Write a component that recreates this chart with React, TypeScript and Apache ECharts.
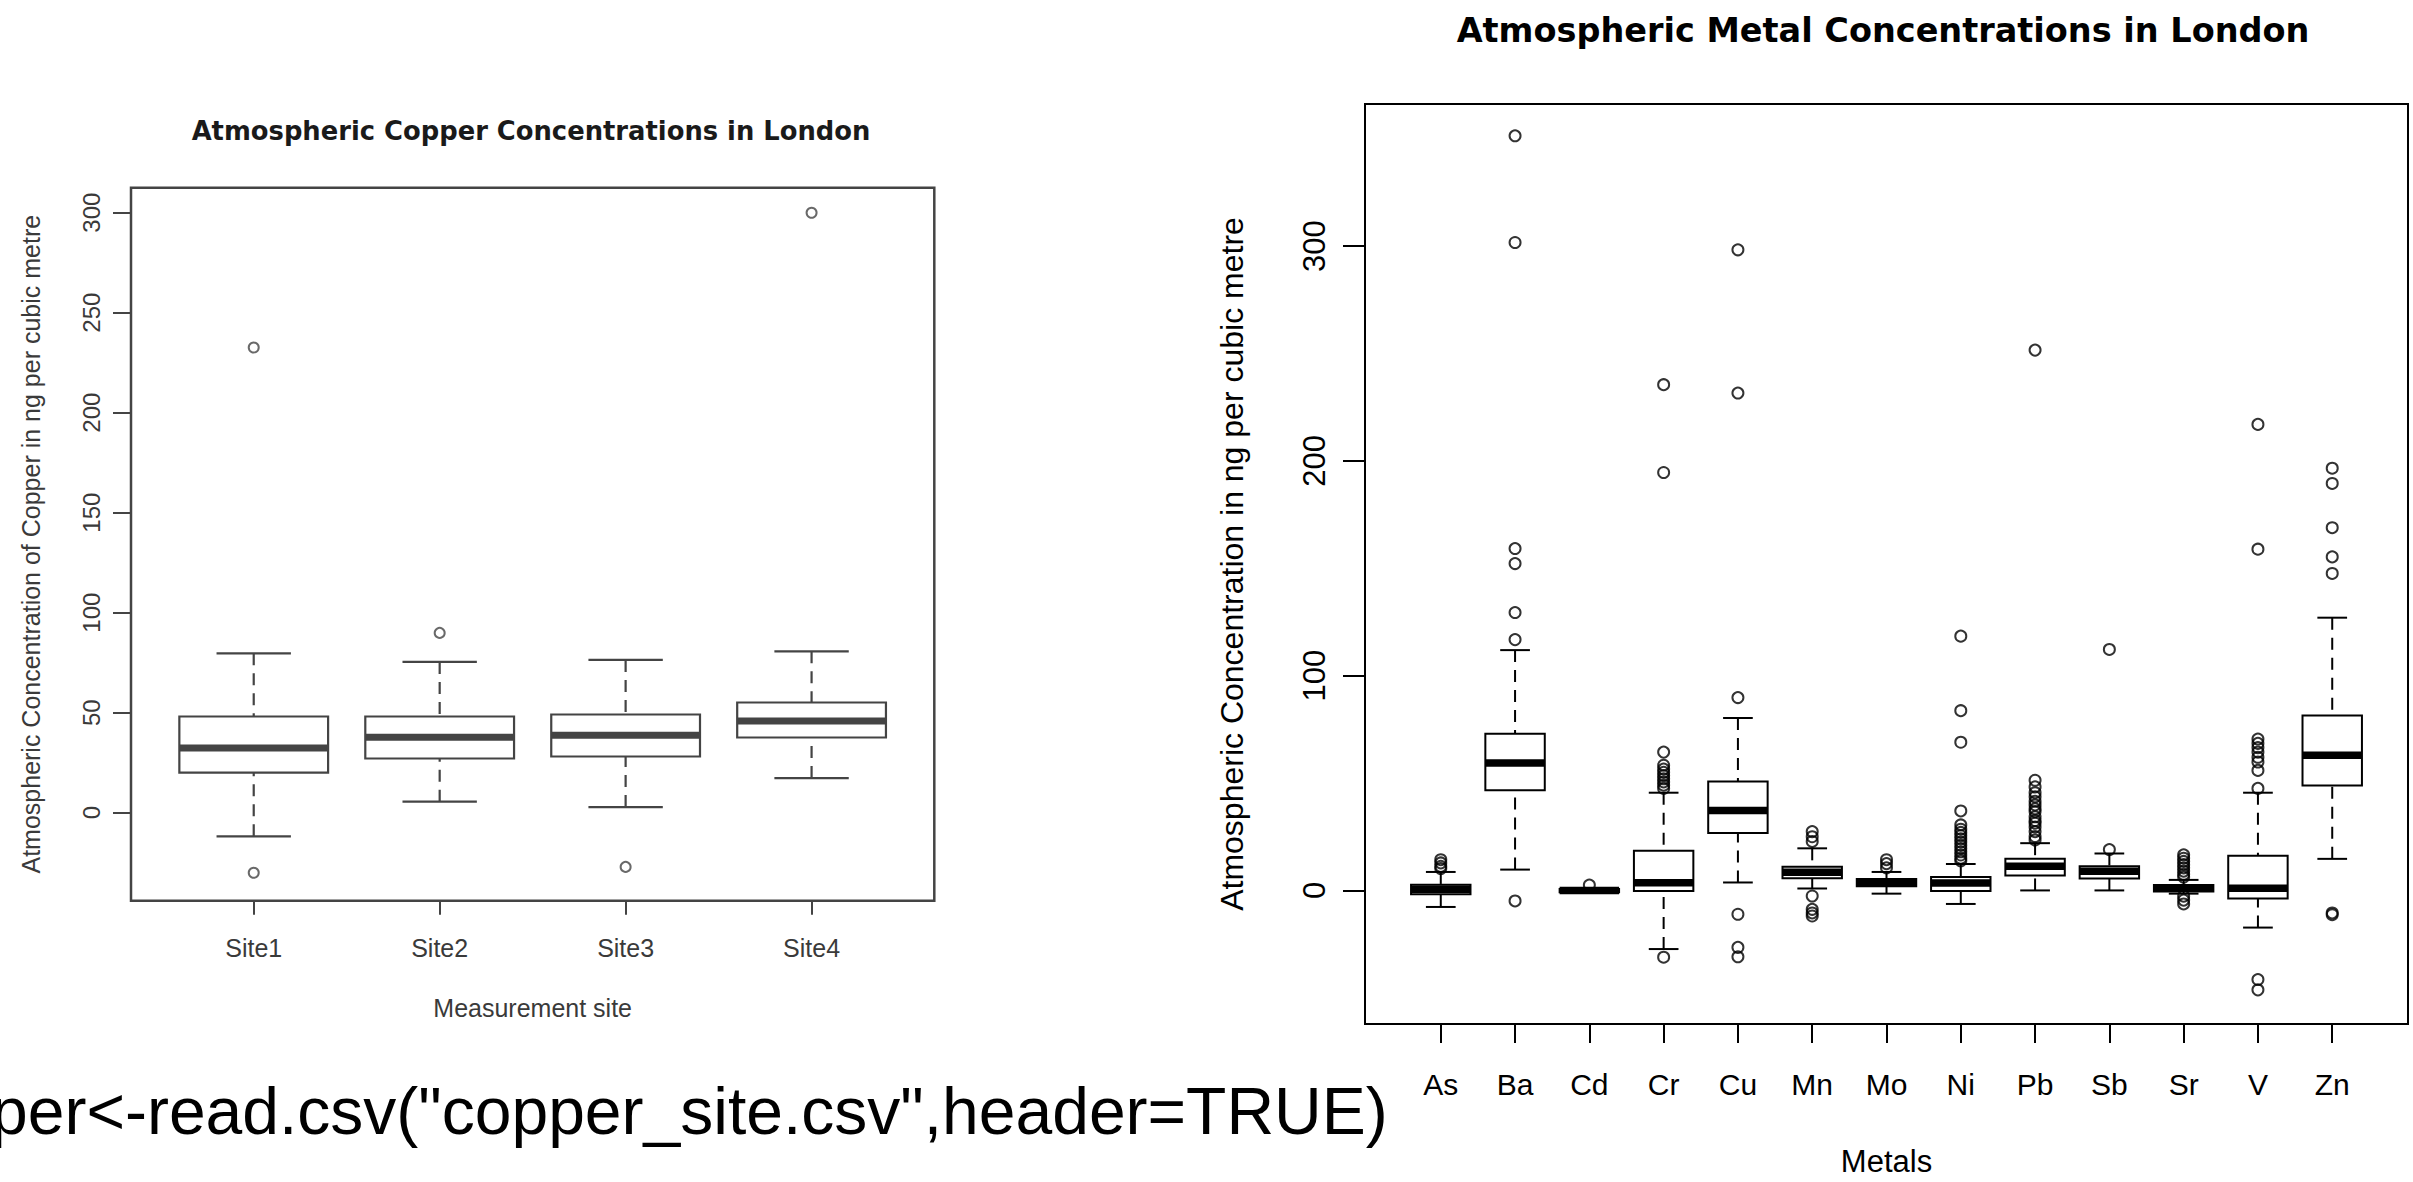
import React, { useEffect, useRef } from "react";
import * as echarts from "echarts";

// ---------- Left chart: copper by site ----------
const sites = ["Site1", "Site2", "Site3", "Site4"];
const copperLow = [-11.8, 5.5, 2.8, 17.3];
const copperQ1 = [20.0, 27.1, 28.1, 37.6];
const copperMedian = [32.4, 37.7, 38.7, 45.9];
const copperQ3 = [48.1, 48.1, 49.1, 55.1];
const copperHigh = [79.7, 75.4, 76.4, 80.7];
const copperOutliers = [[232.6, -30.0], [89.9], [-27.1], [300.0]];
const copperTicks = [0, 50, 100, 150, 200, 250, 300];

// ---------- Right chart: metals ----------
const metals = ["As", "Ba", "Cd", "Cr", "Cu", "Mn", "Mo", "Ni", "Pb", "Sb", "Sr", "V", "Zn"];
const metalLow = [-7.7, 9.7, -0.9, -27.3, 3.7, 0.9, -1.5, -6.3, 0.0, 0.0, -1.5, -17.3, 14.7];
const metalQ1 = [-1.8, 46.7, -0.8, -0.3, 26.7, 5.7, 2.0, -0.3, 7.0, 5.5, -0.5, -3.8, 48.9];
const metalMedian = [0.5, 59.3, 0.0, 3.6, 37.2, 8.5, 3.5, 3.5, 11.2, 8.9, 1.0, 1.0, 62.9];
const metalQ3 = [2.6, 72.9, 0.7, 18.5, 50.7, 11.0, 5.3, 6.2, 14.8, 11.3, 2.5, 16.2, 81.4];
const metalHigh = [8.6, 111.9, 0.9, 45.5, 80.3, 19.6, 8.6, 12.3, 22.0, 17.2, 4.9, 45.5, 127.0];
const metalOutliers = [
  [14.3, 12.8, 11.2, 10.2],
  [351.4, 301.7, 159.2, 152.2, 129.4, 116.8, -4.9],
  [2.5],
  [235.5, 194.6, 64.4, 58.3, 56.5, 55.0, 53.5, 52.0, 50.5, 49.0, 47.5, -31.1],
  [298.3, 231.6, 89.8, -11.1, -26.5, -30.9],
  [27.4, 25.0, 22.8, -2.6, -8.8, -10.5, -11.9],
  [14.3, 12.5, 10.5],
  [118.4, 83.7, 69.0, 37.0, 30.5, 28.5, 27.0, 25.5, 24.0, 22.5, 21.0, 19.5, 18.0, 16.5, 15.0, 13.8],
  [251.6, 51.3, 48.2, 45.5, 43.6, 41.5, 39.8, 38.0, 36.7, 34.3, 32.5, 31.3, 29.5, 27.4, 25.1, 23.5],
  [112.2, 19.0],
  [16.6, 15.0, 13.5, 12.0, 10.5, 9.0, 7.5, 6.2, -2.7, -4.5, -6.3],
  [217.0, 158.9, 70.5, 68.5, 66.5, 64.4, 62.0, 59.8, 55.9, 47.5, -41.5, -46.3],
  [196.6, 189.5, 168.9, 155.3, 147.6, -10.5, -11.3],
];
const metalTicks = [0, 100, 200, 300];

const codeLine = 'per<-read.csv("copper_site.csv",header=TRUE)';

const FONT = "Liberation Sans";
const LEFT_INK = "#444";
const LEFT_TEXT = "#3a3a3a";

function boxRows(low: number[], q1: number[], med: number[], q3: number[], high: number[]) {
  return low.map((_, i) => [i + 1, low[i], q1[i], med[i], q3[i], high[i]]);
}

function outlierPoints(outs: number[][]) {
  const pts: number[][] = [];
  outs.forEach((arr, i) => arr.forEach((v) => pts.push([i + 1, v])));
  return pts;
}

function makeBoxRenderer(color: string, lw: number, medW: number, dash: number[]) {
  return (_params: any, api: any) => {
    const x = api.value(0);
    const pLow = api.coord([x, api.value(1)]);
    const cx = pLow[0];
    const yLow = pLow[1];
    const yQ1 = api.coord([x, api.value(2)])[1];
    const yMed = api.coord([x, api.value(3)])[1];
    const yQ3 = api.coord([x, api.value(4)])[1];
    const yHigh = api.coord([x, api.value(5)])[1];
    const unit = api.size([1, 0])[0];
    const bw = unit * 0.8;
    const cw = unit * 0.4;
    const line = (x1: number, y1: number, x2: number, y2: number, extra: any = {}) => ({
      type: "line",
      shape: { x1, y1, x2, y2 },
      style: { stroke: color, lineWidth: lw, ...extra },
    });
    return {
      type: "group",
      children: [
        line(cx, yLow, cx, yQ1, { lineDash: dash }),
        line(cx, yHigh, cx, yQ3, { lineDash: dash }),
        line(cx - cw / 2, yLow, cx + cw / 2, yLow),
        line(cx - cw / 2, yHigh, cx + cw / 2, yHigh),
        {
          type: "rect",
          shape: { x: cx - bw / 2, y: yQ3, width: bw, height: yQ1 - yQ3 },
          style: { fill: "#fff", stroke: color, lineWidth: lw },
        },
        line(cx - bw / 2, yMed, cx + bw / 2, yMed, { lineWidth: medW }),
      ],
    };
  };
}

export default function App() {
  const ref = useRef<HTMLDivElement>(null);

  useEffect(() => {
    if (!ref.current) return;
    const chart = echarts.init(ref.current, null, { renderer: "svg" });

    const option: any = {
      animation: false,
      backgroundColor: "#fff",
      textStyle: { fontFamily: FONT },
      title: [
        {
          text: "Atmospheric Copper Concentrations in London",
          left: 531,
          top: 118,
          textAlign: "center",
          padding: 0,
          textStyle: { fontFamily: "DejaVu Sans", fontWeight: "bold", fontSize: 25.8, color: "#1a1a1a" },
        },
        {
          text: "Atmospheric Metal Concentrations in London",
          left: 1883,
          top: 13,
          textAlign: "center",
          padding: 0,
          textStyle: { fontFamily: "DejaVu Sans", fontWeight: "bold", fontSize: 33.5, color: "#000" },
        },
      ],
      grid: [
        { left: 131, top: 187.7, width: 803.3, height: 713, show: true, borderColor: LEFT_INK, borderWidth: 2.5, containLabel: false },
        { left: 1365, top: 104, width: 1043, height: 926.5, show: true, borderColor: "#000", borderWidth: 2, containLabel: false },
      ],
      xAxis: [
        {
          gridIndex: 0,
          type: "value",
          position: "bottom",
          min: 0.34,
          max: 4.66,
          axisLine: { show: false, onZero: false },
          splitLine: { show: false },
          axisTick: { show: true, customValues: [1, 2, 3, 4], length: 14, lineStyle: { color: LEFT_INK, width: 2 } },
          axisLabel: {
            customValues: [1, 2, 3, 4],
            formatter: (v: number) => sites[Math.round(v) - 1],
            margin: 35,
            fontSize: 25,
            color: LEFT_TEXT,
            fontFamily: FONT,
          },
          name: "Measurement site",
          nameLocation: "middle",
          nameGap: 95,
          nameTextStyle: { fontSize: 25, color: LEFT_TEXT, fontFamily: FONT },
        },
        {
          gridIndex: 1,
          type: "value",
          position: "bottom",
          min: -0.02,
          max: 14.02,
          axisLine: { show: false, onZero: false },
          splitLine: { show: false },
          axisTick: { show: true, customValues: metals.map((_, i) => i + 1), length: 19, lineStyle: { color: "#000", width: 2 } },
          axisLabel: {
            customValues: metals.map((_, i) => i + 1),
            formatter: (v: number) => metals[Math.round(v) - 1],
            margin: 45,
            fontSize: 30,
            color: "#000",
            fontFamily: FONT,
          },
          name: "Metals",
          nameLocation: "middle",
          nameGap: 122,
          nameTextStyle: { fontSize: 31, color: "#000", fontFamily: FONT },
        },
      ],
      yAxis: [
        {
          gridIndex: 0,
          type: "value",
          position: "left",
          min: -44,
          max: 312.5,
          axisLine: { show: false, onZero: false },
          splitLine: { show: false },
          axisTick: { show: true, customValues: copperTicks, length: 18, lineStyle: { color: LEFT_INK, width: 2 } },
          axisLabel: {
            customValues: copperTicks,
            rotate: 90,
            margin: 28,
            fontSize: 24,
            color: LEFT_TEXT,
            fontFamily: FONT,
          },
          name: "Atmospheric Concentration of Copper in ng per cubic metre",
          nameLocation: "middle",
          nameRotate: 90,
          nameGap: 88,
          nameTextStyle: { fontSize: 25, color: LEFT_TEXT, fontFamily: FONT },
        },
        {
          gridIndex: 1,
          type: "value",
          position: "left",
          min: -62.2,
          max: 366.2,
          axisLine: { show: false, onZero: false },
          splitLine: { show: false },
          axisTick: { show: true, customValues: metalTicks, length: 22, lineStyle: { color: "#000", width: 2 } },
          axisLabel: {
            customValues: metalTicks,
            rotate: 90,
            margin: 35,
            fontSize: 31,
            color: "#000",
            fontFamily: FONT,
          },
          name: "Atmospheric Concentration in ng per cubic metre",
          nameLocation: "middle",
          nameRotate: 90,
          nameGap: 117,
          nameTextStyle: { fontSize: 32, color: "#000", fontFamily: FONT },
        },
      ],
      series: [
        {
          type: "custom",
          name: "Copper boxes",
          xAxisIndex: 0,
          yAxisIndex: 0,
          data: boxRows(copperLow, copperQ1, copperMedian, copperQ3, copperHigh),
          encode: { x: 0, y: [1, 2, 3, 4, 5] },
          renderItem: makeBoxRenderer(LEFT_INK, 2.2, 7, [12, 8]),
          silent: true,
        },
        {
          type: "scatter",
          name: "Copper outliers",
          xAxisIndex: 0,
          yAxisIndex: 0,
          data: outlierPoints(copperOutliers),
          symbol: "circle",
          symbolSize: 10,
          itemStyle: { color: "transparent", borderColor: LEFT_INK, borderWidth: 2 },
          silent: true,
        },
        {
          type: "custom",
          name: "Metal boxes",
          xAxisIndex: 1,
          yAxisIndex: 1,
          data: boxRows(metalLow, metalQ1, metalMedian, metalQ3, metalHigh),
          encode: { x: 0, y: [1, 2, 3, 4, 5] },
          renderItem: makeBoxRenderer("#000", 2, 7.5, [12, 8]),
          silent: true,
        },
        {
          type: "scatter",
          name: "Metal outliers",
          xAxisIndex: 1,
          yAxisIndex: 1,
          data: outlierPoints(metalOutliers),
          symbol: "circle",
          symbolSize: 11,
          itemStyle: { color: "transparent", borderColor: "#000", borderWidth: 2 },
          silent: true,
        },
      ],
      graphic: [
        {
          type: "text",
          x: -9,
          y: 1111,
          silent: true,
          style: {
            text: codeLine,
            fontFamily: FONT,
            fontSize: 66,
            fill: "#000",
            textAlign: "left",
            textVerticalAlign: "middle",
          },
        },
      ],
    };

    chart.setOption(option);
    return () => {
      chart.dispose();
    };
  }, []);

  return (
    <div
      ref={ref}
      style={{ position: "fixed", left: 0, top: 0, width: 2413, height: 1182, background: "#fff" }}
    />
  );
}
